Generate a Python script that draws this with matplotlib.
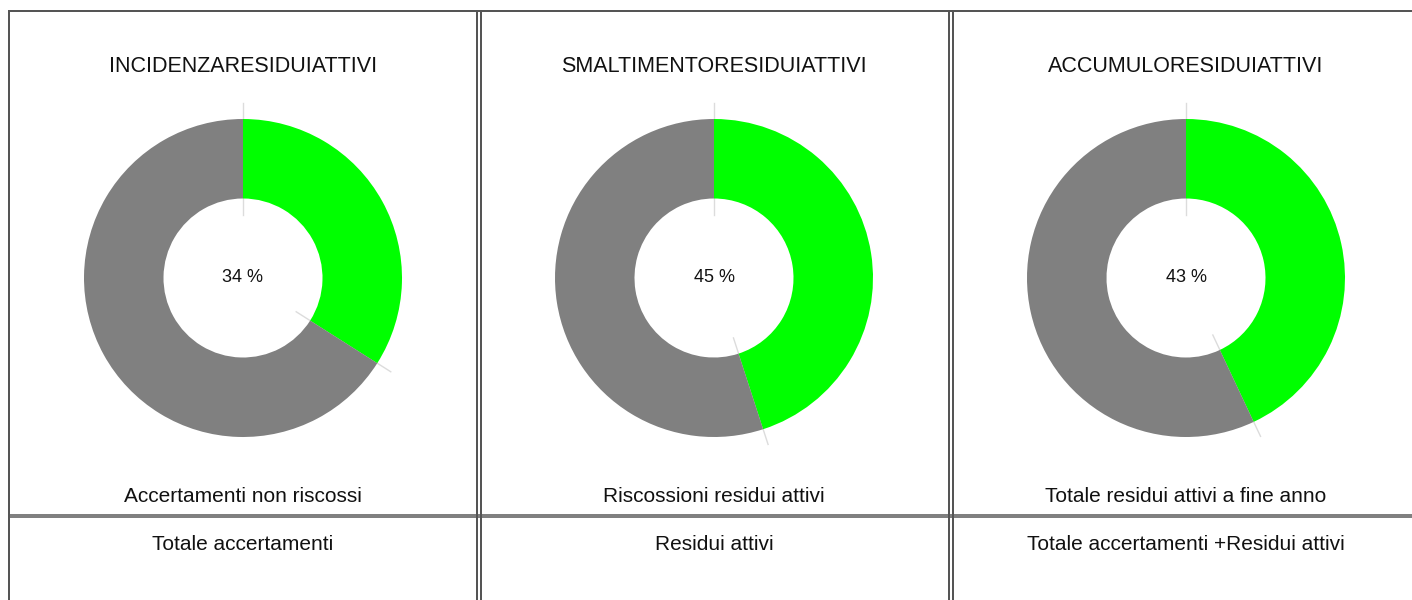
import numpy as np
import matplotlib.pyplot as plt

# chart content
titles = ['INCIDENZARESIDUIATTIVI', 'SMALTIMENTORESIDUIATTIVI', 'ACCUMULORESIDUIATTIVI']
percent = [34, 45, 43]
top_labels = ['Accertamenti non riscossi', 'Riscossioni residui attivi',
              'Totale residui attivi a fine anno']
bottom_labels = ['Totale accertamenti', 'Residui attivi',
                 'Totale accertamenti +Residui attivi']

W, H = 1412, 600
plt.rcParams['font.family'] = ['Liberation Sans', 'DejaVu Sans']

fig = plt.figure(figsize=(W / 100, H / 100), dpi=100)
fig.patch.set_facecolor('white')

# background axes in pixel coordinates for the table grid and text
bg = fig.add_axes([0, 0, 1, 1])
bg.set_xlim(0, W)
bg.set_ylim(H, 0)
bg.axis('off')

px = 0.72  # one pixel in points
dark = '#555555'
bg.plot([9, W], [516, 516], color='#808080', lw=4 * px, solid_capstyle='butt')
bg.plot([8, W], [11, 11], color=dark, lw=2 * px, solid_capstyle='butt')
bg.plot([9, 9], [10, H], color=dark, lw=2 * px, solid_capstyle='butt')
for x in [477, 480.5, 949, 952.5]:
    bg.plot([x, x], [10, H], color=dark, lw=2 * px, solid_capstyle='butt')

centers = [243, 714, 1186]
cy = 278
R = 159.0   # outer radius in px
half = 180  # half size of donut axes in px

for i, cx in enumerate(centers):
    bg.text(cx, 66, titles[i], ha='center', va='center', fontsize=15.5, color='#111111')
    bg.text(cx, 497, top_labels[i], ha='center', va='center', fontsize=15.0, color='#111111')
    bg.text(cx, 545, bottom_labels[i], ha='center', va='center', fontsize=15.0, color='#111111')

    ax = fig.add_axes([(cx - half) / W, (H - cy - half) / H, 2 * half / W, 2 * half / H])
    p = percent[i]
    ax.pie([p, 100 - p], colors=['#00ff00', '#808080'], startangle=90,
           counterclock=False, radius=1.0,
           wedgeprops=dict(width=0.5, linewidth=0))
    lim = half / R
    ax.set_xlim(-lim, lim)
    ax.set_ylim(-lim, lim)
    ax.set_aspect('equal')
    ax.axis('off')

    # faint separator ticks at slice boundaries
    for ang in [90, 90 - p * 3.6]:
        a = np.deg2rad(ang)
        r0, r1 = 63 / R, 175 / R
        ax.plot([r0 * np.cos(a), r1 * np.cos(a)], [r0 * np.sin(a), r1 * np.sin(a)],
                color='#dcdcdc', lw=1.0, zorder=0)

    ax.text(0, 0, f'{p} %', ha='center', va='center', fontsize=13, color='#111111')

fig.savefig('out.png', dpi=100)
